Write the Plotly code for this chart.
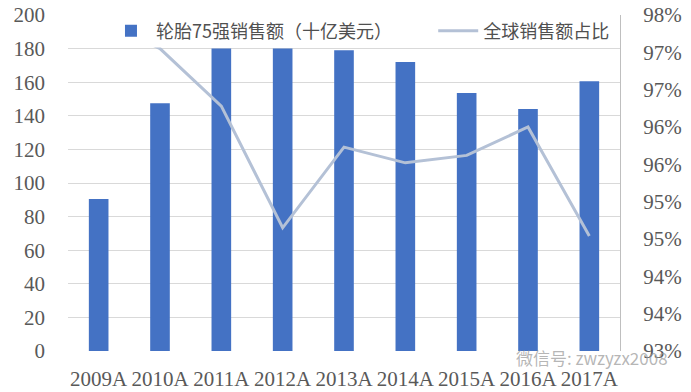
import plotly.graph_objects as go

years = ["2009A", "2010A", "2011A", "2012A", "2013A", "2014A", "2015A", "2016A", "2017A"]
sales = [90.5, 147.5, 180, 180, 179, 172, 153.5, 144, 160.5]
share = [0.9745, 0.9705, 0.9628, 0.9465, 0.9573, 0.9552, 0.9562, 0.9600, 0.9454]

left_ticks = list(range(0, 201, 20))
right_ticks = [0.93 + 0.005 * i for i in range(10)]
right_text = [f"{int(v * 100 + 0.5 + 1e-9)}%" for v in right_ticks]

bar_name = "轮胎75强销售额（十亿美元）"
line_name = "全球销售额占比"

tick_font = dict(family="Liberation Serif, Times New Roman, serif", size=21, color="#595959")
legend_font = dict(family="Noto Sans CJK SC", size=18, color="#505050")

fig = go.Figure()
fig.add_trace(go.Bar(x=years, y=sales, name=bar_name, marker_color="#4472C4",
                     marker_line_width=0, legend="legend"))
fig.add_trace(go.Scatter(x=years, y=share, name=line_name, yaxis="y2", mode="lines",
                         line=dict(color="#B4C1D6", width=3), legend="legend2"))

# white legend band between the top two gridlines (masks what lies under the legend)
fig.add_shape(type="rect", xref="paper", yref="y", x0=0.0, x1=0.998, y0=180.6, y1=199.4,
              fillcolor="white", line_width=0, layer="above")

fig.update_layout(
    width=691, height=392,
    margin=dict(l=68, r=71, t=15, b=41, autoexpand=False),
    paper_bgcolor="white", plot_bgcolor="white",
    bargap=0.68,
    showlegend=True,
    legend=dict(orientation="h", x=0.0688, y=1.007, xanchor="left", yanchor="top",
                bgcolor="rgba(0,0,0,0)", borderwidth=0, font=legend_font, itemwidth=40),
    legend2=dict(orientation="h", x=0.6616, y=1.007, xanchor="left", yanchor="top",
                 bgcolor="rgba(0,0,0,0)", borderwidth=0, font=legend_font, itemwidth=40),
    xaxis=dict(type="category", tickfont=tick_font, showgrid=False, showline=False,
               ticks="", ticklabelstandoff=13, automargin=False),
    yaxis=dict(range=[0, 200], tickvals=left_ticks, tickfont=tick_font,
               showgrid=True, gridcolor="#D9D9D9", gridwidth=1.3, zeroline=False,
               ticks="", ticklabelstandoff=22, showline=False, automargin=False),
    yaxis2=dict(range=[0.93, 0.975], overlaying="y", side="right", tickvals=right_ticks,
                ticktext=right_text, tickfont=tick_font, showgrid=False, zeroline=False,
                showline=True, linecolor="#BFBFBF", linewidth=1.3, ticks="",
                ticklabelstandoff=18, automargin=False),
)

fig.add_annotation(text="微信号: zwzyzx2008", xref="paper", yref="paper", x=1.09, y=-0.02,
                   xanchor="right", yanchor="middle", showarrow=False,
                   font=dict(family="Noto Sans CJK SC", size=17, color="rgba(150,150,150,0.7)"))

fig.write_html("out.html")
